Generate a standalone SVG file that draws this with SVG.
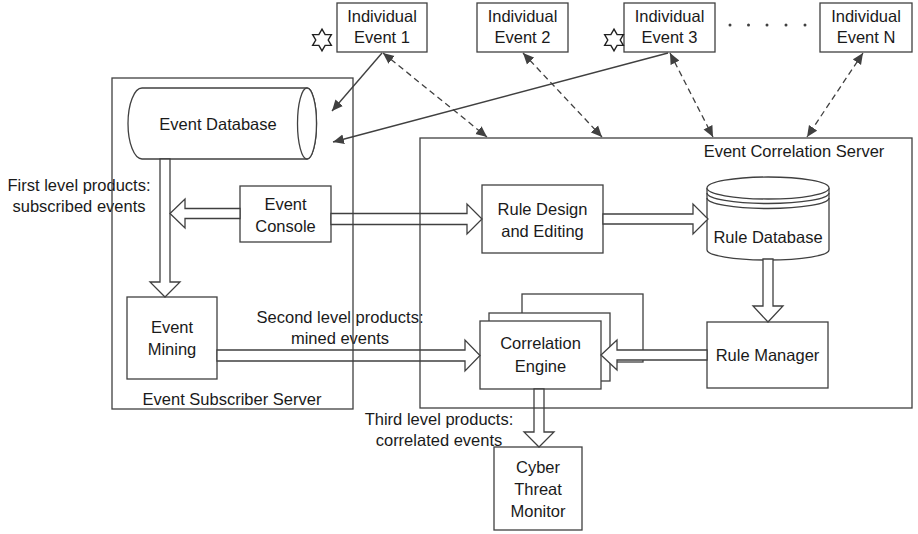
<svg xmlns="http://www.w3.org/2000/svg" width="918" height="534" viewBox="0 0 918 534">
<style>
  .box { fill: #ffffff; stroke: #404040; stroke-width: 1.3; }
  .cont { fill: none; stroke: #404040; stroke-width: 1.3; }
  .harrow { fill: #ffffff; stroke: #404040; stroke-width: 1.3; stroke-linejoin: miter; }
  .line { fill: none; stroke: #404040; stroke-width: 1.4; }
  .dash { fill: none; stroke: #404040; stroke-width: 1.3; stroke-dasharray: 6 4; }
  text { font-family: "Liberation Sans", Arial, sans-serif; font-size: 16.5px; fill: #1a1a1a; text-anchor: middle; }
  .star { fill: #ffffff; stroke: #202020; stroke-width: 1.3; stroke-linejoin: miter; }
  .dot { fill: #404040; }
</style>
<defs>
  <marker id="ah" viewBox="0 0 10 10" refX="10" refY="5" markerWidth="11" markerHeight="11" markerUnits="userSpaceOnUse" orient="auto-start-reverse">
    <path d="M0,0.5 L10,5 L0,9.5 Z" fill="#404040"/>
  </marker>
  <path id="hexstar" d="M0,-10 L2.89,-5 L8.66,-5 L5.77,0 L8.66,5 L2.89,5 L0,10 L-2.89,5 L-8.66,5 L-5.77,0 L-8.66,-5 L-2.89,-5 Z"/>
</defs>
<rect width="918" height="534" fill="#ffffff"/>

<!-- Individual events -->
<g id="event1">
  <rect class="box" x="337" y="3" width="90" height="49"/>
  <text x="382" y="22">Individual</text>
  <text x="382" y="43">Event 1</text>
</g>
<g id="event2">
  <rect class="box" x="477" y="3" width="91" height="49"/>
  <text x="522.5" y="22">Individual</text>
  <text x="522.5" y="43">Event 2</text>
</g>
<g id="event3">
  <rect class="box" x="624" y="3" width="91" height="49"/>
  <text x="669.5" y="22">Individual</text>
  <text x="669.5" y="43">Event 3</text>
</g>
<g id="eventN">
  <rect class="box" x="820" y="3" width="92" height="49"/>
  <text x="866" y="22">Individual</text>
  <text x="866" y="43">Event N</text>
</g>
<g id="stars">
  <use href="#hexstar" class="star" transform="translate(322,40) scale(1.08)"/>
  <use href="#hexstar" class="star" transform="translate(614,40) scale(1.08)"/>
</g>
<g id="dots">
  <circle class="dot" cx="730" cy="25" r="1.5"/>
  <circle class="dot" cx="748.5" cy="25" r="1.5"/>
  <circle class="dot" cx="767" cy="25" r="1.5"/>
  <circle class="dot" cx="786" cy="25" r="1.5"/>
  <circle class="dot" cx="805" cy="25" r="1.5"/>
</g>

<!-- Event Subscriber Server nodes -->
<g id="eventDatabase">
  <path class="box" d="M142,88 H307 A9.5,35.5 0 0 1 307,159 H142 A14,35.5 0 0 1 142,88 Z"/>
  <ellipse class="box" cx="307" cy="123.5" rx="9.5" ry="35.5"/>
  <text x="218" y="130">Event Database</text>
</g>
<g id="eventConsole">
  <rect class="box" x="240" y="186" width="91" height="56"/>
  <text x="285.5" y="210">Event</text>
  <text x="285.5" y="232">Console</text>
</g>
<g id="eventMining">
  <rect class="box" x="127" y="297" width="90" height="82"/>
  <text x="172" y="333">Event</text>
  <text x="172" y="355">Mining</text>
</g>

<!-- Event Correlation Server nodes -->
<g id="ruleDesign">
  <rect class="box" x="482" y="185" width="121" height="68"/>
  <text x="542.5" y="215">Rule Design</text>
  <text x="542.5" y="237">and Editing</text>
</g>
<g id="ruleDatabase">
  <path class="box" d="M707,188 V250 A61,10 0 0 0 829,250 V188"/>
  <ellipse class="box" cx="768" cy="188" rx="61" ry="11"/>
  <path class="line" d="M707,193 A61,10.5 0 0 0 829,193"/>
  <path class="line" d="M707,198 A61,10.5 0 0 0 829,198"/>
  <text x="768" y="243">Rule Database</text>
</g>
<g id="ruleManager">
  <rect class="box" x="707" y="322" width="121" height="66"/>
  <text x="767.5" y="361">Rule Manager</text>
</g>
<g id="correlationEngine">
  <rect class="box" x="522" y="294" width="121" height="68"/>
  <rect class="box" x="489" y="313" width="121" height="68"/>
  <rect class="box" x="480" y="321" width="121" height="68"/>
  <text x="540.5" y="349">Correlation</text>
  <text x="540.5" y="372">Engine</text>
</g>
<g id="cyberThreatMonitor">
  <rect class="box" x="494" y="447" width="88" height="83"/>
  <text x="538" y="473">Cyber</text>
  <text x="538" y="495">Threat</text>
  <text x="538" y="517">Monitor</text>
</g>

<!-- Connectors -->
<g id="connectors">
  <line class="line" x1="382" y1="53" x2="332" y2="111" marker-end="url(#ah)"/>
  <line class="line" x1="668" y1="53" x2="333" y2="142" marker-end="url(#ah)"/>
  <line class="dash" x1="383" y1="53" x2="487" y2="137" marker-start="url(#ah)" marker-end="url(#ah)"/>
  <line class="dash" x1="523" y1="53" x2="602" y2="137" marker-start="url(#ah)" marker-end="url(#ah)"/>
  <line class="dash" x1="670" y1="53" x2="713" y2="137" marker-start="url(#ah)" marker-end="url(#ah)"/>
  <line class="dash" x1="863" y1="53" x2="807" y2="137" marker-start="url(#ah)" marker-end="url(#ah)"/>
  <path class="harrow" d="M160,159 V282 H150 L165,297 L180,282 H170 V159 Z"/>
  <path class="harrow" d="M240,208.5 H185 V199 L170,213.5 L185,228 V218.5 H240 Z"/>
  <path class="harrow" d="M331,213.5 H467 V204 L482,219 L467,234 V224.5 H331 Z"/>
  <path class="harrow" d="M603,214 H693 V204 L708,219 L693,234 V224 H603 Z"/>
  <path class="harrow" d="M763,259 V306 H753 L768,322 L783,306 H773 V259 Z"/>
  <path class="harrow" d="M707,350 H617 V340 L601,355 L617,370 V360 H707 Z"/>
  <path class="harrow" d="M217,350 H465 V340 L480,355.5 L465,371 V361 H217 Z"/>
  <path class="harrow" d="M534,389 V432 H524 L539,447 L554,432 H544 V389 Z"/>
</g>

<!-- Connector labels -->
<g id="labels">
  <text x="79" y="191">First level products:</text>
  <text x="79" y="212">subscribed events</text>
  <text x="340" y="323">Second level products:</text>
  <text x="340" y="344">mined events</text>
  <text x="439" y="425">Third level products:</text>
  <text x="439" y="446">correlated events</text>
</g>

<!-- Containers -->
<g id="eventSubscriberServer">
  <rect class="cont" x="112" y="78" width="241" height="331"/>
  <text x="232" y="405">Event Subscriber Server</text>
</g>
<g id="eventCorrelationServer">
  <rect class="cont" x="420" y="138" width="492" height="270"/>
  <text x="794" y="157">Event Correlation Server</text>
</g>
</svg>
